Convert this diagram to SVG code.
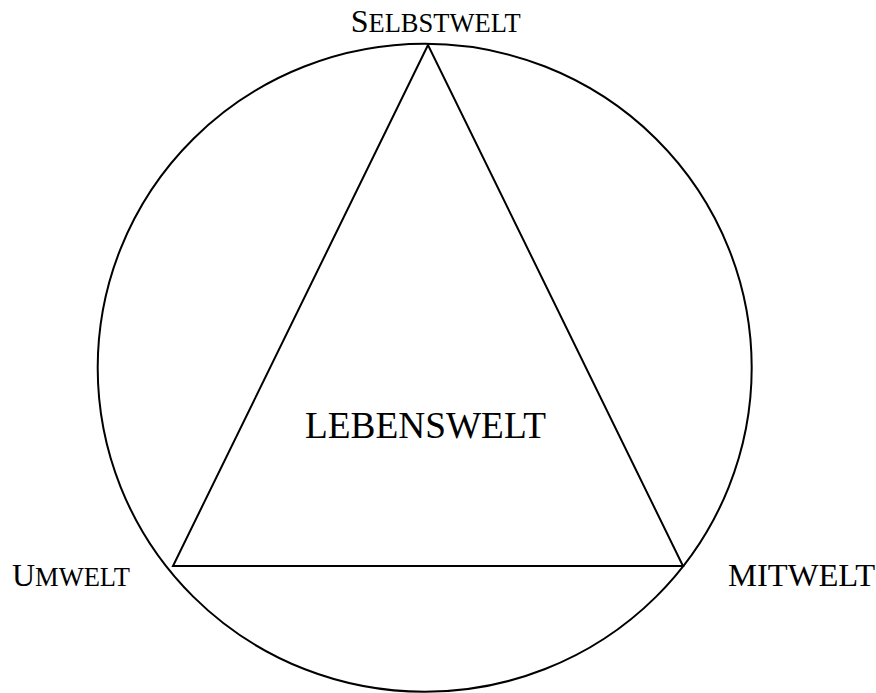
<svg xmlns="http://www.w3.org/2000/svg" width="876" height="693" viewBox="0 0 876 693">
<style>
.s{fill:none;stroke:#000;stroke-width:2}
.t{font-family:"Liberation Serif","Times New Roman",serif;fill:#000}
</style>
<rect width="876" height="693" fill="#fff"/>
<g id="connectors">
<ellipse class="s" cx="424.7" cy="367.8" rx="327" ry="324"/>
<polygon class="s" points="428,45 173,566 683,566"/>
</g>
<g id="selbstwelt"><text class="t" x="350.7" y="32.3" font-size="32">S<tspan font-size="26.5">ELBSTWELT</tspan></text></g>
<g id="umwelt"><text class="t" x="12" y="585.7" font-size="32">U<tspan font-size="26.5">MWELT</tspan></text></g>
<g id="mitwelt"><text class="t" x="728" y="585.7" font-size="32.6">MITWELT</text></g>
<g id="lebenswelt"><text class="t" x="305" y="438" font-size="37.3">LEBENSWELT</text></g>
</svg>
